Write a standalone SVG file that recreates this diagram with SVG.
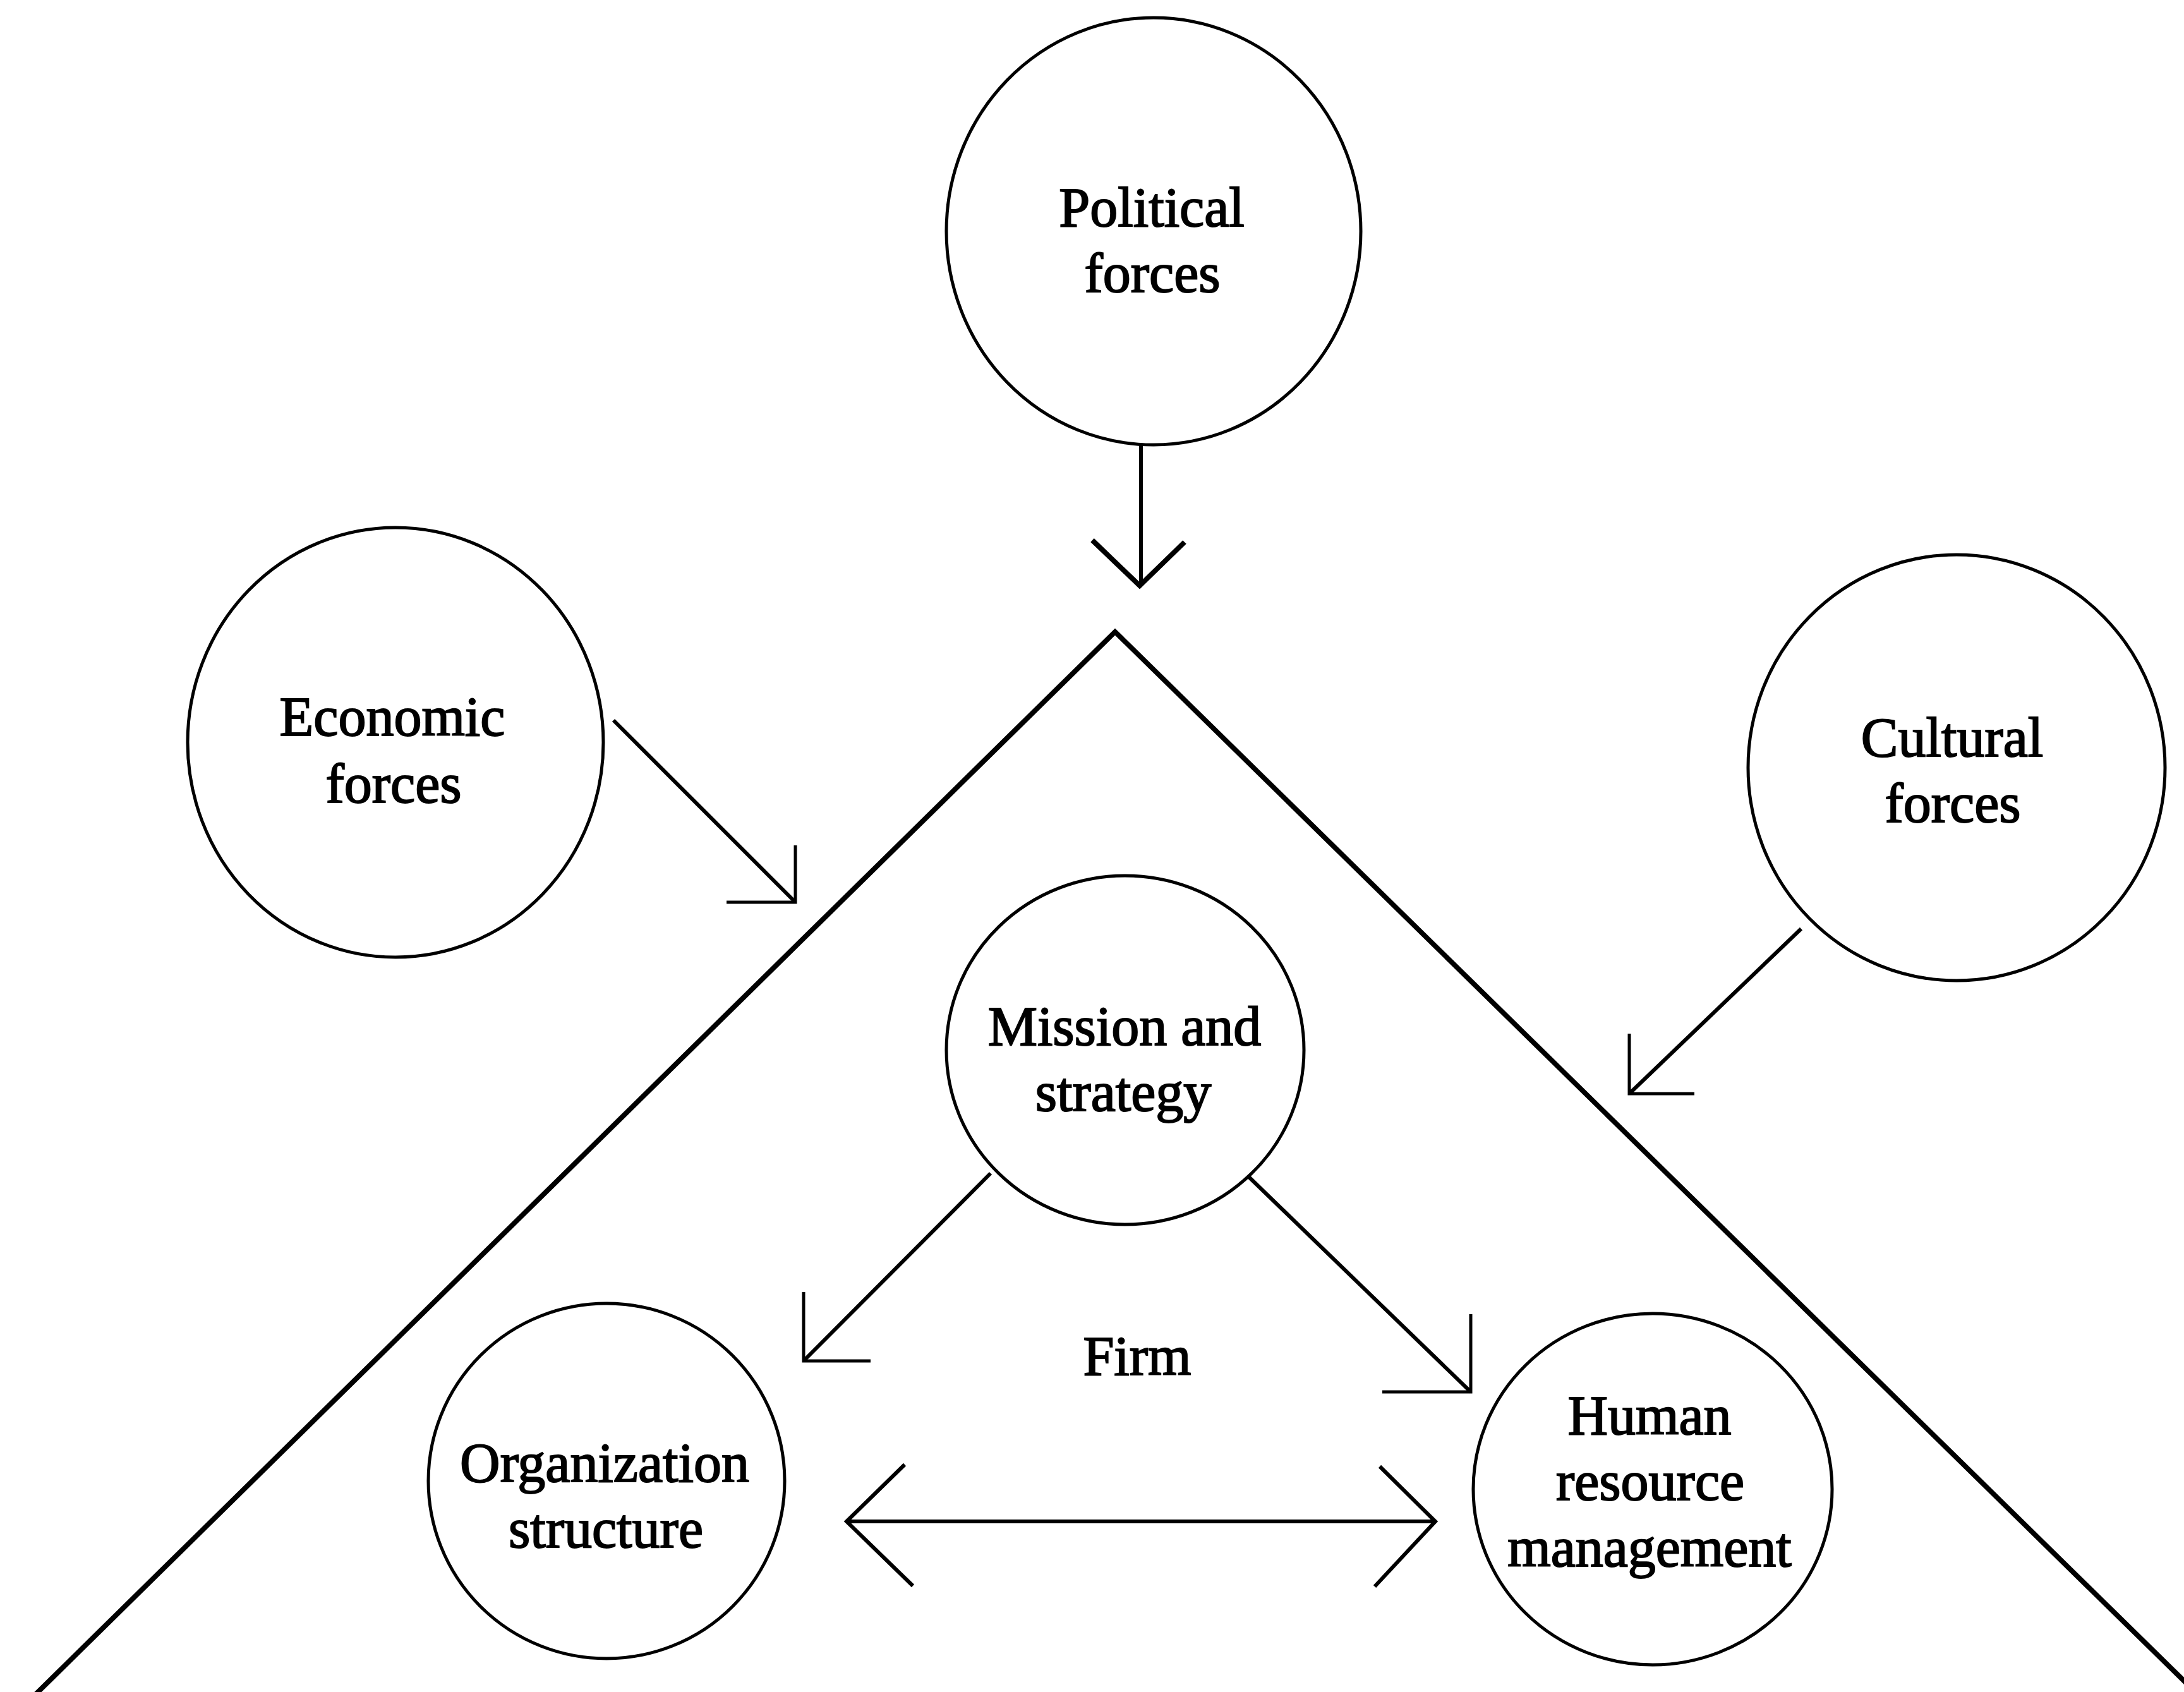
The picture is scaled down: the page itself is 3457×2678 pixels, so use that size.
<svg xmlns="http://www.w3.org/2000/svg" width="3457" height="2678" viewBox="0 0 3457 2678">
<style>
.node ellipse{fill:none;stroke:#000;stroke-width:5}
.node text{font-family:"Liberation Serif","Times New Roman",serif;font-size:88px;fill:#000;stroke:#000;stroke-width:2;text-anchor:middle}
.frame{fill:none;stroke:#000;stroke-width:8;stroke-linejoin:miter}
.shaft{fill:none;stroke:#000;stroke-width:6;stroke-linecap:butt}
.head{fill:none;stroke:#000;stroke-width:5;stroke-linejoin:miter}
</style>
<rect width="3457" height="2678" fill="#fff"/>
<g id="firm-boundary">
<polyline class="frame" points="55,2683 1765,1000 3480,2683"/>
</g>
<g id="node-political" class="node">
<ellipse cx="1826" cy="366" rx="328" ry="338"/>
<text x="1823" y="358">Political</text>
<text x="1824" y="462">forces</text>
</g>
<g id="node-economic" class="node">
<ellipse cx="626" cy="1175" rx="329" ry="340"/>
<text x="621" y="1164">Economic</text>
<text x="623" y="1270">forces</text>
</g>
<g id="node-cultural" class="node">
<ellipse cx="3097" cy="1215" rx="330" ry="337"/>
<text x="3090" y="1197">Cultural</text>
<text x="3091" y="1301">forces</text>
</g>
<g id="node-mission" class="node">
<ellipse cx="1781" cy="1662" rx="283" ry="276"/>
<text x="1780" y="1654">Mission and</text>
<text x="1778" y="1758">strategy</text>
</g>
<g id="node-organization" class="node">
<ellipse cx="960" cy="2344" rx="282" ry="281"/>
<text x="957" y="2345">Organization</text>
<text x="959" y="2449">structure</text>
</g>
<g id="node-hrm" class="node">
<ellipse cx="2616" cy="2357" rx="284" ry="278"/>
<text x="2611" y="2270">Human</text>
<text x="2612" y="2374">resource</text>
<text x="2611" y="2479">management</text>
</g>
<g id="label-firm" class="node">
<text x="1800" y="2176">Firm</text>
</g>
<g id="connectors">
<line class="shaft" x1="1806" y1="705" x2="1806" y2="925"/>
<polyline class="head" style="stroke-width:8" points="1729,855 1804,927 1875,858"/>
<line class="shaft" x1="971" y1="1140" x2="1259" y2="1428"/>
<polyline class="head" points="1259,1338 1259,1428 1150,1428"/>
<line class="shaft" x1="2851" y1="1470" x2="2579" y2="1731"/>
<polyline class="head" points="2579,1636 2579,1731 2682,1731"/>
<line class="shaft" x1="1568" y1="1857" x2="1272" y2="2154"/>
<polyline class="head" points="1272,2045 1272,2154 1378,2154"/>
<line class="shaft" x1="1977" y1="1863" x2="2328" y2="2203"/>
<polyline class="head" points="2328,2080 2328,2203 2188,2203"/>
<line class="shaft" x1="1340" y1="2408" x2="2272" y2="2408"/>
<polyline class="head" style="stroke-width:6" points="1432,2318 1340,2408 1445,2510"/>
<polyline class="head" style="stroke-width:6" points="2184,2321 2272,2408 2176,2511"/>
</g>
</svg>
